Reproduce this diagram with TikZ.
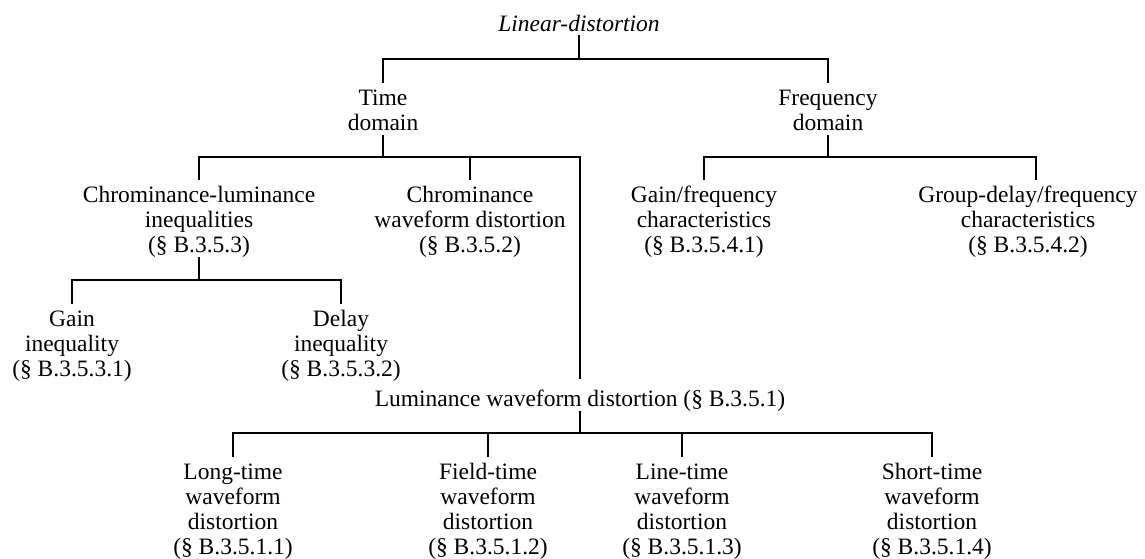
\documentclass[tikz,border=0pt]{standalone}
\usepackage{fontspec}
\setmainfont{Liberation Serif}
\newcommand\tstr{\rule{0pt}{22pt}}
\newcommand\bstr{\rule[-5pt]{0pt}{5pt}}
\begin{document}
\begin{tikzpicture}[x=1pt,y=-1pt,
  lbl/.style={inner sep=0pt, align=center, anchor=north, font=\fontsize{23.5}{25}\selectfont},
  conn/.style={line width=2.4pt, line join=miter}]
\useasboundingbox (0,0) rectangle (1145,559);
% nodes (north = first baseline - 22)
\node[lbl] (lin) at (579,9) {\tstr\textit{Linear-distortion}\rule[-4pt]{0pt}{4pt}};
\node[lbl] (time) at (383,83) {\tstr Time\\domain\bstr};
\node[lbl] (freq) at (828,83) {\tstr Frequency\\domain\bstr};
\node[lbl] (chl) at (199,180) {\tstr Chrominance-luminance\\inequalities\\(§ B.3.5.3)\bstr};
\node[lbl] (chw) at (470,180) {\tstr Chrominance\\waveform distortion\\(§ B.3.5.2)\bstr};
\node[lbl] (gf) at (704,180) {\tstr Gain/frequency\\characteristics\\(§ B.3.5.4.1)\bstr};
\node[lbl] (gd) at (1028,180) {\tstr Group-delay/frequency\\characteristics\\(§ B.3.5.4.2)\bstr};
\node[lbl] (gain) at (72,304) {\tstr Gain\\inequality\\(§ B.3.5.3.1)\bstr};
\node[lbl] (delay) at (341,304) {\tstr Delay\\inequality\\(§ B.3.5.3.2)\bstr};
\node[lbl] (lum) at (580,379) {\rule{0pt}{27pt}Luminance waveform distortion (§ B.3.5.1)\bstr};
\node[lbl] (lt) at (233,457) {\tstr Long-time\\waveform\\distortion\\(§ B.3.5.1.1)\bstr};
\node[lbl] (ft) at (488,457) {\tstr Field-time\\waveform\\distortion\\(§ B.3.5.1.2)\bstr};
\node[lbl] (lnt) at (682,457) {\tstr Line-time\\waveform\\distortion\\(§ B.3.5.1.3)\bstr};
\node[lbl] (st) at (932,457) {\tstr Short-time\\waveform\\distortion\\(§ B.3.5.1.4)\bstr};
% bar junctions
\coordinate (b1) at (579,59);
\coordinate (b2) at (383,157);
\coordinate (b2r) at (828,157);
\coordinate (b3) at (199,280);
\coordinate (b4) at (580,433);
\coordinate (gdtop) at ([xshift=8pt]gd.north);
% connectors
\draw[conn] (lin.south) -- (b1);
\draw[conn] (time.north) |- (b1) -| (freq.north);
\draw[conn] (time.south) -- (b2);
\draw[conn] (chl.north) |- (b2) -| (lum.north);
\draw[conn] (chw.north) -- (chw.north |- b2);
\draw[conn] (freq.south) -- (b2r);
\draw[conn] (gf.north) |- (b2r) -| (gdtop);
\draw[conn] (chl.south) -- (b3);
\draw[conn] (gain.north) |- (b3) -| (delay.north);
\draw[conn] (lum.south) -- (b4);
\draw[conn] (lt.north) |- (b4) -| (st.north);
\draw[conn] (ft.north) -- (ft.north |- b4);
\draw[conn] (lnt.north) -- (lnt.north |- b4);
\end{tikzpicture}
\end{document}
